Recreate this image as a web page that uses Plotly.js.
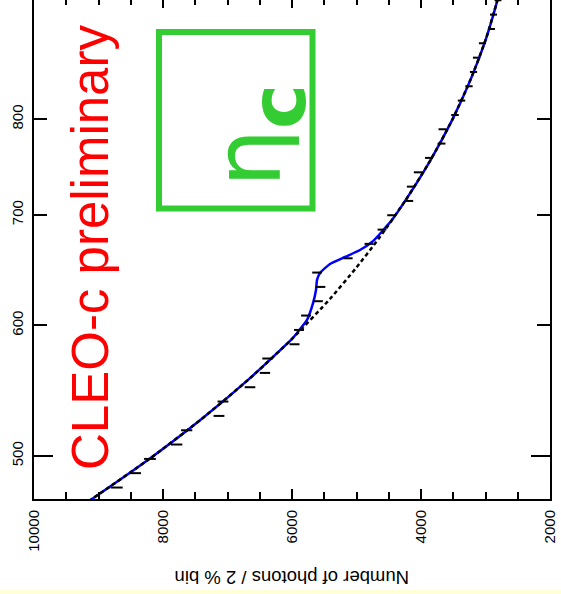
<!DOCTYPE html>
<html><head><meta charset="utf-8">
<script src="https://cdn.plot.ly/plotly-3.0.1.min.js"></script>
<style>
html,body{margin:0;padding:0;background:#ffffd8;width:561px;height:594px;overflow:hidden}
#chart{position:absolute;left:0;top:-3px;width:561px;height:593px}
</style>
</head><body><div id="chart"></div>
<script>
// photon energy (MeV), bin centres, 2 % bins
const energy = [478.5,488.2,498.0,508.1,518.3,528.8,539.5,550.4,561.5,572.9,584.4,596.2,608.3,620.6,633.1,645.9,658.9,672.3,685.8,699.7,713.8,728.2,742.9,758.0,773.3,788.9,804.8,821.1,837.7,854.6,871.8,889.5,907.4,925.8,944.5];
// number of photons per bin
const counts = [8718,8434,8202,7788,7633,7132,7070,6651,6419,6380,5961,5891,5783,5597,5558,5612,5132,4806,4605,4457,4186,4155,4047,3876,3682,3667,3473,3372,3256,3186,3139,3047,2907,2876,2806];
const countErr = [93,92,91,88,87,84,84,82,80,80,77,77,76,75,75,75,72,69,68,67,65,64,64,62,61,61,59,58,57,56,56,55,54,54,53];
// background fit curve
const bkgE = [467.0,470.9,497.9,526.5,556.8,588.8,622.6,649.2,676.9,715.8,756.8,800.2,846.1,894.7,944.6,952.6];
const bkgN = [9239,9101,8214,7402,6664,6000,5411,5019,4660,4226,3843,3510,3228,2994,2815,2792];
// total fit (background + eta_c signal)
const fitE = [467.0,470.9,497.9,526.5,556.8,588.8,593.7,604.6,618.9,630.4,639.3,645.5,653.7,660.1,666.6,674.1,679.7,687.3,695.1,715.8,756.8,800.2,846.1,894.7,944.6,952.6];
const fitN = [9239,9101,8214,7402,6664,6000,5922,5767,5674,5628,5612,5566,5411,5178,4946,4760,4667,4558,4450,4226,3843,3510,3228,2994,2815,2792];
const xTickStart = 2000, xTickStep = 2000, xMinorStep = 500;
const yTicks = [500,600,700,800];
const yLongTick = [500];

const Y0 = Math.log10(470.9), Y1 = Math.log10(947.5);

const traces = [
  {x: fitN, y: fitE, type:'scatter', mode:'lines', line:{color:'#0000ff', width:2.5, shape:'spline', smoothing:0.5}, hoverinfo:'skip'},
  {x: bkgN, y: bkgE, type:'scatter', mode:'lines', line:{color:'#000000', width:2.5, dash:'4px,3px', shape:'spline', smoothing:0.6}, hoverinfo:'skip'},
  {x: counts, y: energy, type:'scatter', mode:'markers', marker:{size:1, color:'#000'},
   error_x:{type:'data', array: countErr, visible:true, width:0, thickness:2, color:'#000'}, hoverinfo:'skip'},
  {x: [null], y: [null], yaxis:'y2', type:'scatter', mode:'markers', showlegend:false, hoverinfo:'skip'}
];

const font = 'Liberation Sans, Arial, sans-serif';
const px = v => (v - 34) / 516;
const py = v => (499 - v) / 501;

const layout = {
  width: 561, height: 593,
  margin: {l:34, r:11, t:1, b:91},
  paper_bgcolor:'#ffffff', plot_bgcolor:'#ffffff',
  showlegend:false,
  xaxis: {
    type:'linear', range:[10000, 2000], tickmode:'linear', tick0:xTickStart, dtick:xTickStep,
    tickformat:'d',
    ticks:'inside', ticklen:10, tickwidth:2, tickcolor:'#000',
    minor:{tickmode:'linear', tick0:xTickStart, dtick:xMinorStep, ticks:'inside', ticklen:7, tickwidth:2, tickcolor:'#000', showgrid:false},
    showline:true, linewidth:2, linecolor:'#000', mirror:'ticks',
    showgrid:false, zeroline:false, tickangle:-90,
    tickfont:{family:font, size:15, color:'#000'}, ticklabelstandoff:3
  },
  yaxis: {
    type:'log', range:[Y0, Y1], tickmode:'array', tickvals:yTicks, ticktext:yTicks.map(String),
    ticks:'inside', ticklen:13, tickwidth:2, tickcolor:'#000',
    showline:true, linewidth:2, linecolor:'#000', mirror:'ticks',
    showgrid:false, zeroline:false, tickangle:-90,
    tickfont:{family:font, size:15, color:'#000'}, ticklabelstandoff:3
  },
  yaxis2: {
    type:'log', range:[Y0, Y1], overlaying:'y', side:'left', tickmode:'array', tickvals:yLongTick,
    ticks:'inside', ticklen:19, tickwidth:2, tickcolor:'#000', showticklabels:false,
    showline:false, mirror:'ticks', showgrid:false, zeroline:false
  },
  shapes: [
    {type:'rect', xref:'paper', yref:'paper', x0:px(159), x1:px(312.5), y0:py(208.5), y1:py(32),
     line:{color:'#33cc33', width:6}, fillcolor:'rgba(0,0,0,0)'}
  ],
  annotations: [
    {text:'Number of photons / 2 % bin', xref:'paper', yref:'paper', x:px(292), y:py(578),
     xanchor:'center', yanchor:'middle', showarrow:false, textangle:180,
     font:{family:font, size:18.5, color:'#000'}},
    {text:'CLEO-c preliminary', xref:'paper', yref:'paper', x:px(90.5), y:py(247.5),
     xanchor:'center', yanchor:'middle', showarrow:false, textangle:-90,
     font:{family:font, size:51, color:'#ff0000'}},
    {text:'η', xref:'paper', yref:'paper', x:px(248), y:py(158),
     xanchor:'center', yanchor:'middle', showarrow:false, textangle:-90,
     font:{family:'DejaVu Sans, sans-serif', size:92, color:'#33cc33'}},
    {text:'c', xref:'paper', yref:'paper', x:px(279), y:py(107),
     xanchor:'center', yanchor:'middle', showarrow:false, textangle:-90,
     font:{family:'DejaVu Sans, sans-serif', size:76, color:'#33cc33', weight:'bold'}}
  ]
};

Plotly.newPlot('chart', traces, layout, {staticPlot:true, displayModeBar:false});
</script>
</body></html>
